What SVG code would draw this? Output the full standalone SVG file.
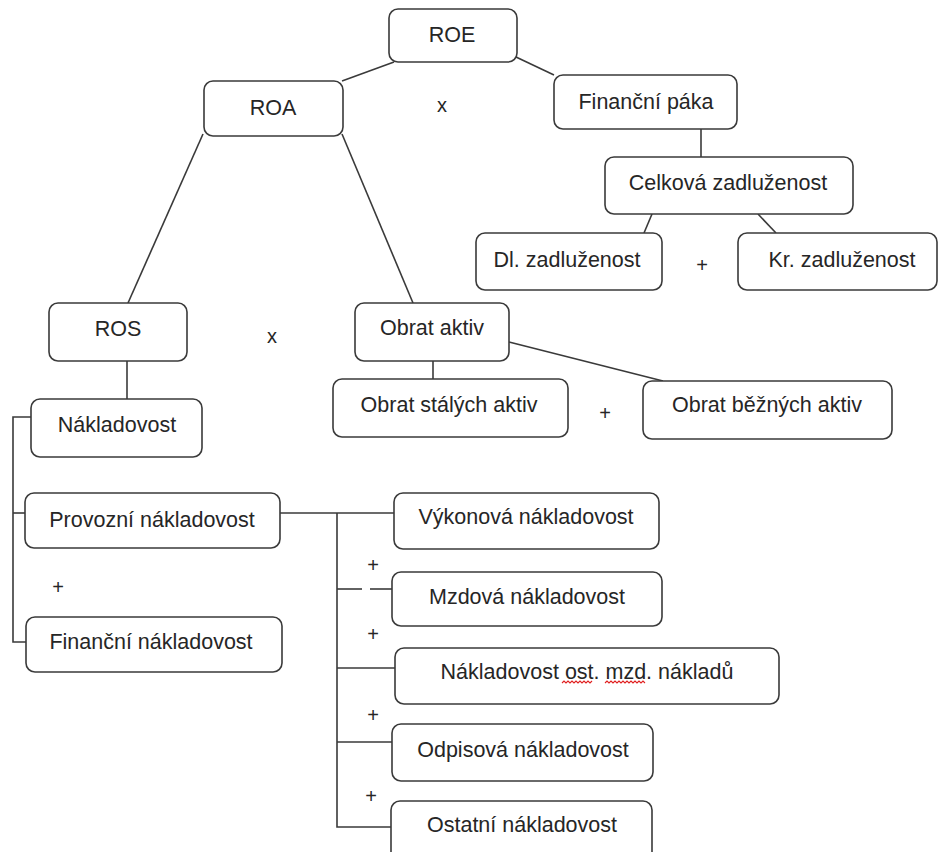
<svg xmlns="http://www.w3.org/2000/svg" width="938" height="852" viewBox="0 0 938 852">
<style>
  .box { fill: #ffffff; stroke: #3a3a3a; stroke-width: 1.6; }
  .lbl { font-family: "Liberation Sans", Arial, sans-serif; font-size: 21.5px; fill: #262626; text-anchor: middle; }
  .op { font-family: "Liberation Sans", Arial, sans-serif; font-size: 20px; fill: #262626; text-anchor: middle; }
  .con { fill: none; stroke: #3a3a3a; stroke-width: 1.6; }
  .spell { fill: none; stroke: #e02020; stroke-width: 1.1; }
</style>
<rect x="0" y="0" width="938" height="852" fill="#ffffff"/>

<g id="connectors">
  <line class="con" x1="394" y1="62" x2="342" y2="81"/>
  <line class="con" x1="516" y1="57" x2="554" y2="75"/>
  <line class="con" x1="701" y1="129" x2="701" y2="157"/>
  <line class="con" x1="652" y1="214" x2="644" y2="233"/>
  <line class="con" x1="758" y1="214" x2="776" y2="233"/>
  <line class="con" x1="203" y1="134" x2="128" y2="303"/>
  <line class="con" x1="342" y1="134" x2="413" y2="303"/>
  <line class="con" x1="433" y1="361" x2="433" y2="379"/>
  <line class="con" x1="509" y1="342" x2="663" y2="381"/>
  <line class="con" x1="127" y1="361" x2="127" y2="399"/>
  <path class="con" d="M31,417 H13 V642 H26"/>
  <line class="con" x1="13" y1="513" x2="25" y2="513"/>
  <line class="con" x1="280" y1="513" x2="394" y2="513"/>
  <path class="con" d="M337,513 V827 H391"/>
  <line class="con" x1="337" y1="589" x2="362" y2="589"/>
  <line class="con" x1="370" y1="589" x2="392" y2="589"/>
  <line class="con" x1="337" y1="668" x2="395" y2="668"/>
  <line class="con" x1="337" y1="742" x2="392" y2="742"/>
</g>

<g id="ROE"><rect class="box" x="389" y="9" width="128" height="53" rx="9"/><text class="lbl" x="452" y="42">ROE</text></g>
<g id="ROA"><rect class="box" x="204" y="81" width="139" height="55" rx="9"/><text class="lbl" x="273" y="115">ROA</text></g>
<g id="FinancniPaka"><rect class="box" x="554" y="75" width="183" height="54" rx="9"/><text class="lbl" x="646" y="109">Finanční páka</text></g>
<g id="CelkovaZadluzenost"><rect class="box" x="605" y="157" width="248" height="57" rx="9"/><text class="lbl" x="728" y="190">Celková zadluženost</text></g>
<g id="DlZadluzenost"><rect class="box" x="476" y="233" width="186" height="57" rx="9"/><text class="lbl" x="567" y="267">Dl. zadluženost</text></g>
<g id="KrZadluzenost"><rect class="box" x="738" y="233" width="199" height="57" rx="9"/><text class="lbl" x="842" y="267">Kr. zadluženost</text></g>
<g id="ROS"><rect class="box" x="49" y="303" width="138" height="58" rx="9"/><text class="lbl" x="118" y="336">ROS</text></g>
<g id="ObratAktiv"><rect class="box" x="355" y="303" width="154" height="58" rx="9"/><text class="lbl" x="432" y="335">Obrat aktiv</text></g>
<g id="ObratStalychAktiv"><rect class="box" x="333" y="379" width="235" height="58" rx="9"/><text class="lbl" x="449" y="412">Obrat stálých aktiv</text></g>
<g id="ObratBeznychAktiv"><rect class="box" x="643" y="381" width="249" height="58" rx="9"/><text class="lbl" x="767" y="412">Obrat běžných aktiv</text></g>
<g id="Nakladovost"><rect class="box" x="31" y="399" width="171" height="58" rx="9"/><text class="lbl" x="117" y="432">Nákladovost</text></g>
<g id="ProvozniNakladovost"><rect class="box" x="25" y="493" width="255" height="55" rx="9"/><text class="lbl" x="152" y="527">Provozní nákladovost</text></g>
<g id="FinancniNakladovost"><rect class="box" x="26" y="617" width="256" height="55" rx="9"/><text class="lbl" x="151" y="649">Finanční nákladovost</text></g>
<g id="VykonovaNakladovost"><rect class="box" x="394" y="493" width="265" height="56" rx="9"/><text class="lbl" x="526" y="524">Výkonová nákladovost</text></g>
<g id="MzdovaNakladovost"><rect class="box" x="392" y="572" width="270" height="54" rx="9"/><text class="lbl" x="527" y="604">Mzdová nákladovost</text></g>
<g id="NakladovostOstMzdNakladu"><rect class="box" x="395" y="648" width="384" height="56" rx="9"/><text class="lbl" x="587" y="679">Nákladovost ost. mzd. nákladů</text>
  <path class="spell" d="M562,683 l2,-2 l2,2 l2,-2 l2,2 l2,-2 l2,2 l2,-2 l2,2 l2,-2 l2,2 l2,-2 l2,2 l2,-2 l2,2 l2,-2"/>
  <path class="spell" d="M605,683 l2,-2 l2,2 l2,-2 l2,2 l2,-2 l2,2 l2,-2 l2,2 l2,-2 l2,2 l2,-2 l2,2 l2,-2 l2,2 l2,-2 l2,2 l2,-2 l2,2 l2,-2 l2,2"/>
</g>
<g id="OdpisovaNakladovost"><rect class="box" x="392" y="724" width="261" height="57" rx="9"/><text class="lbl" x="523" y="757">Odpisová nákladovost</text></g>
<g id="OstatniNakladovost"><rect class="box" x="391" y="801" width="261" height="60" rx="9"/><text class="lbl" x="522" y="832">Ostatní nákladovost</text></g>

<g id="operators">
  <text class="op" x="442" y="112">x</text>
  <text class="op" x="272" y="343">x</text>
  <text class="op" x="702" y="272">+</text>
  <text class="op" x="605" y="420">+</text>
  <text class="op" x="58" y="594">+</text>
  <text class="op" x="373" y="572">+</text>
  <text class="op" x="373" y="641">+</text>
  <text class="op" x="373" y="722">+</text>
  <text class="op" x="371" y="803">+</text>
</g>
</svg>
